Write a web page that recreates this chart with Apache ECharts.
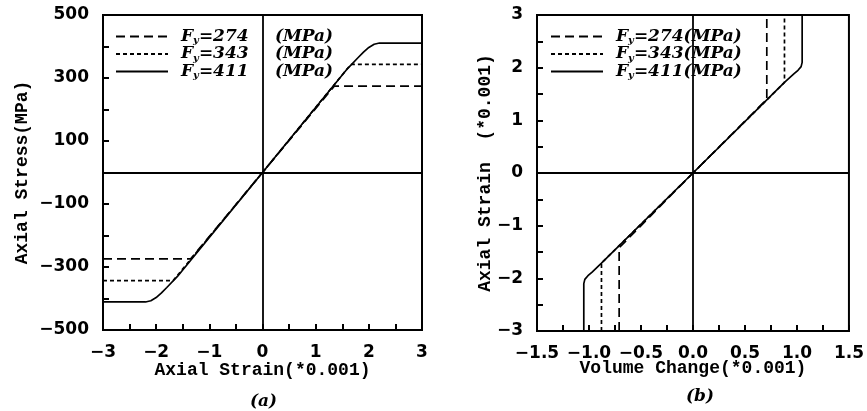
<!DOCTYPE html>
<html>
<head>
<meta charset="utf-8">
<script src="https://cdn.jsdelivr.net/npm/echarts@6/dist/echarts.min.js"></script>
<style>
  html, body { margin: 0; padding: 0; background: #fff; }
  #chart { width: 867px; height: 411px; }
</style>
</head>
<body>
<div id="chart"></div>
<script>
  // series names (yield stress, MPa)
  var names = ['274', '343', '411']

  // (a) axial strain (*0.001) vs axial stress (MPa)
  var stress274 = [[-3, -274], [-1.35, -274], [0, 0], [1.35, 274], [3, 274]]
  var stress343 = [[-3, -343], [-1.68, -343], [0, 0], [1.66, 343], [3, 343]]
  var stress411 = [[-3, -411], [-2.2, -411], [-2.1, -407], [-2.0, -397], [-1.9, -382],
    [-1.8, -365], [-1.6, -330], [0, 0], [1.6, 330], [1.8, 365], [1.9, 382],
    [2.0, 397], [2.1, 407], [2.2, 411], [3, 411]]

  // (b) volume change (*0.001) vs axial strain (*0.001)
  var vol274 = [[-0.71, -3], [-0.71, -1.42], [0, 0], [0.71, 1.4], [0.71, 3]]
  var vol343 = [[-0.88, -3], [-0.88, -1.71], [0, 0], [0.88, 1.72], [0.88, 3]]
  var vol411 = [[-1.05, -3], [-1.05, -2.1], [-1.04, -2.02], [-1.01, -1.95], [-0.97, -1.88],
    [-0.88, -1.71], [0, 0], [0.88, 1.72], [0.97, 1.88], [1.01, 1.95], [1.04, 2.02],
    [1.05, 2.1], [1.05, 3]]

  var chart = echarts.init(document.getElementById('chart'))

  var tickFont = { color: '#000', fontFamily: 'DejaVu Sans', fontWeight: 'bold', fontSize: 17 }
  var nameFont = { color: '#000', fontFamily: 'Liberation Mono', fontWeight: 'bold', fontSize: 18 }
  var dashes = [[9, 5], [4, 3], 'solid']

  function near(v, step) {
    return Math.abs(v / step - Math.round(v / step)) < 1e-6
  }
  function minus(s) {
    return String(s).replace('-', '\u2212')
  }

  function axis(idx, min, max, interval, step, digits, name, gap) {
    return {
      type: 'value', gridIndex: idx, min: min, max: max, interval: interval,
      name: name, nameLocation: 'middle', nameGap: gap, nameTextStyle: nameFont,
      nameMoveOverlap: false,
      axisLine: { onZero: false, lineStyle: { color: '#000', width: 2 } },
      axisTick: { inside: true, length: 6, lineStyle: { color: '#000', width: 2 } },
      axisLabel: {
        margin: 14, color: '#000', fontFamily: tickFont.fontFamily,
        fontWeight: tickFont.fontWeight, fontSize: tickFont.fontSize,
        formatter: function (v) {
          if (!near(v, step)) return ''
          return minus(digits ? v.toFixed(digits) : Math.round(v))
        }
      },
      splitLine: { show: false }
    }
  }

  var rich = {
    g: { width: 8 },
    f: { fontFamily: 'DejaVu Serif', fontStyle: 'italic', fontWeight: 'bold', fontSize: 17, lineHeight: 18, color: '#000' },
    n: { fontFamily: 'DejaVu Serif', fontStyle: 'italic', fontWeight: 'bold', fontSize: 17, lineHeight: 18, color: '#000', width: 76 },
    s: { fontFamily: 'DejaVu Serif', fontStyle: 'italic', fontWeight: 'bold', fontSize: 10, lineHeight: 10, color: '#000', verticalAlign: 'bottom' }
  }

  function series(name, data, i, gi) {
    var s = {
      name: name, type: 'line', data: data, xAxisIndex: gi, yAxisIndex: gi,
      symbol: 'none', color: '#000', animation: false,
      lineStyle: { color: '#000', width: 1.7, type: dashes[i] }
    }
    if (i == 2) {
      s.markLine = {
        silent: true, symbol: 'none', label: { show: false },
        lineStyle: { color: '#000', width: 1.8, type: 'solid' },
        data: [{ xAxis: 0 }, { yAxis: 0 }]
      }
    }
    return s
  }

  var option = {
    backgroundColor: '#fff',
    animation: false,
    grid: [
      { left: 103, top: 15, width: 319, height: 315, show: true, borderColor: '#000', borderWidth: 2 },
      { left: 537, top: 15, width: 316, height: 316, show: true, borderColor: '#000', borderWidth: 2 }
    ],
    legend: [
      {
        data: names, orient: 'vertical', left: 110, top: 23, itemWidth: 52, itemHeight: 14, itemGap: 0,
        itemStyle: { opacity: 0 },
        formatter: function (n) { return '{g|}{f|F}{s|y}{n|=' + n + '}{f|(MPa)}' },
        textStyle: { rich: rich }
      },
      {
        data: names, orient: 'vertical', left: 545, top: 23, itemWidth: 52, itemHeight: 14, itemGap: 0,
        itemStyle: { opacity: 0 },
        formatter: function (n) { return '{g|}{f|F}{s|y}{f|=' + n + '(MPa)}' },
        textStyle: { rich: rich }
      }
    ],
    xAxis: [
      axis(0, -3, 3, 0.5, 1, 0, 'Axial Strain(*0.001)', 31),
      axis(1, -1.5, 1.5, 0.25, 0.5, 1, 'Volume Change(*0.001)', 28)
    ],
    yAxis: [
      axis(0, -500, 500, 100, 200, 0, 'Axial Stress(MPa)', 72),
      axis(1, -3, 3, 0.5, 1, 0, 'Axial Strain  (*0.001)', 43)
    ],
    series: [
      series('274', stress274, 0, 0),
      series('343', stress343, 1, 0),
      series('411', stress411, 2, 0),
      series('274', vol274, 0, 1),
      series('343', vol343, 1, 1),
      series('411', vol411, 2, 1)
    ],
    graphic: [
      { type: 'text', left: 250, top: 393, style: { text: '(a)', font: 'italic bold 17px "DejaVu Serif"', fill: '#000' } },
      { type: 'text', left: 686, top: 388, style: { text: '(b)', font: 'italic bold 17px "DejaVu Serif"', fill: '#000' } }
    ]
  }

  // odd hundreds only on the stress axis
  option.yAxis[0].axisLabel.formatter = function (v) {
    return Math.abs(v) % 200 == 100 ? minus(v) : ''
  }

  chart.setOption(option)
</script>
</body>
</html>
